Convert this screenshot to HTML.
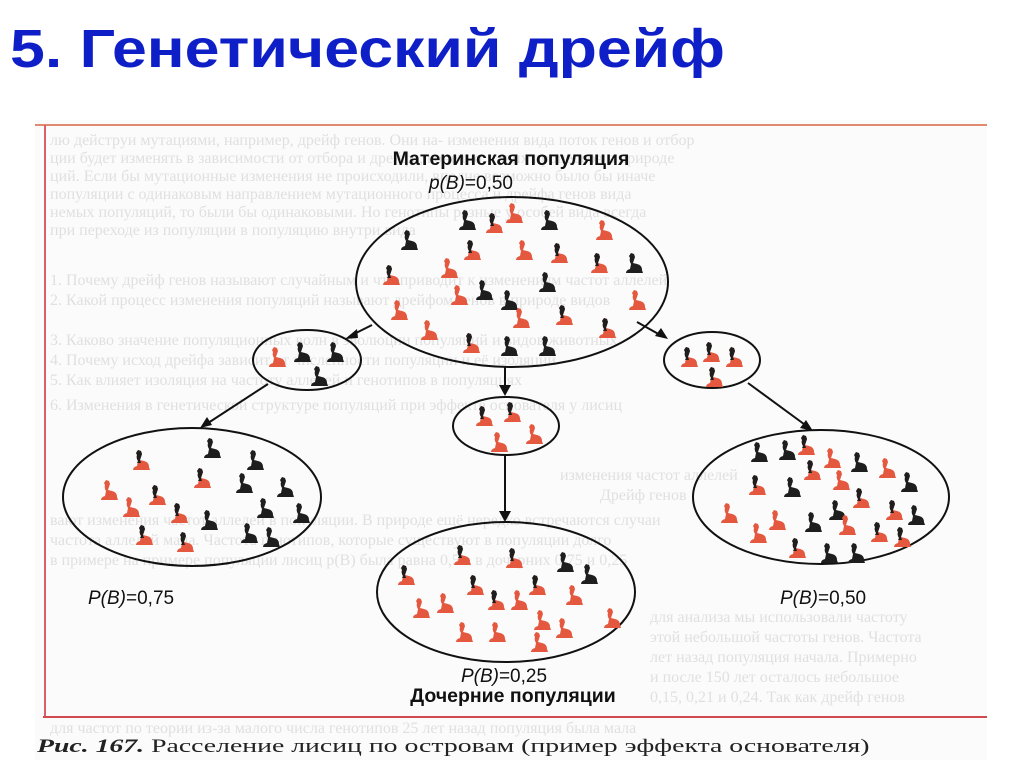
<!DOCTYPE html>
<html><head><meta charset="utf-8"><style>
html,body{margin:0;padding:0;background:#fff;width:1024px;height:767px;overflow:hidden}
svg{display:block}
</style></head><body>
<svg width="1024" height="767" viewBox="0 0 1024 767" xmlns="http://www.w3.org/2000/svg">
<defs>
<path id="fx" d="M6 0 L9 1 L10 4 L9 7 L8 10 L12 11 Q17 12 17 17 L18 20 L1 20 Q1 17 5 16 L6 11 Q4 8 5 5 L4 3 Z"/>
<path id="hd" d="M6 0 L9 1 L10 4 L9 7 L8 10 L9 13 L5 13 L6 11 Q4 8 5 5 L4 3 Z"/>
<g id="B"><use href="#fx" fill="#1e1e1e"/></g>
<g id="R"><use href="#fx" fill="#e4583f"/></g>
<g id="M"><use href="#fx" fill="#e4583f"/><use href="#hd" fill="#1e1e1e"/></g>
</defs>
<rect width="1024" height="767" fill="#fff"/>
<text x="10" y="67" font-family="Liberation Sans, sans-serif" font-weight="bold" font-size="54" fill="#0f1fc8" textLength="715" lengthAdjust="spacingAndGlyphs">5. Генетический дрейф</text>
<rect x="35" y="120" width="952" height="640" fill="#fbfbfb"/>
<line x1="35" y1="125" x2="987" y2="125" stroke="#e08a70" stroke-width="2"/>
<line x1="45" y1="125" x2="45" y2="717" stroke="#d9606a" stroke-width="2"/>
<line x1="43" y1="717" x2="987" y2="717" stroke="#d04a50" stroke-width="2"/>
<g font-family="Liberation Serif, serif" font-size="16" fill="#e0e0e0">
<text x="50" y="145">лю дейструи мутациями, например, дрейф генов. Они на- изменения вида поток генов и отбор</text>
<text x="50" y="163">ции будет изменять в зависимости от отбора и дрейфа, конечно, таких процессов в природе</text>
<text x="50" y="181">ций. Если бы мутационные изменения не происходили, вполне возможно было бы иначе</text>
<text x="50" y="199">популяции с одинаковым направлением мутационного процесса и дрейфа генов вида</text>
<text x="50" y="217">немых популяций, то были бы одинаковыми. Но генотипы разные у особей вида всегда</text>
<text x="50" y="235">при переходе из популяции в популяцию внутри вида</text>
<text x="50" y="285">1. Почему дрейф генов называют случайным и что приводит к изменениям частот аллелей</text>
<text x="50" y="305">2. Какой процесс изменения популяций называют дрейфом генов в природе видов</text>
<text x="50" y="345">3. Каково значение популяционных волн в эволюции популяций и видов животных</text>
<text x="50" y="365">4. Почему исход дрейфа зависит от численности популяции и её изоляции</text>
<text x="50" y="385">5. Как влияет изоляция на частоту аллелей и генотипов в популяциях</text>
<text x="50" y="410">6. Изменения в генетической структуре популяций при эффекте основателя у лисиц</text>
<text x="560" y="480">изменения частот аллелей</text>
<text x="600" y="500">Дрейф генов</text>
<text x="50" y="525">вают изменения частот аллелей в популяции. В природе ещё нередко встречаются случаи</text>
<text x="50" y="545">частота аллелей мала. Частота генотипов, которые существуют в популяции долго</text>
<text x="50" y="565">в примере на примере популяции лисиц p(B) была равна 0,5 а в дочерних 0,75 и 0,25</text>
<text x="650" y="622">для анализа мы использовали частоту</text>
<text x="650" y="642">этой небольшой частоты генов. Частота</text>
<text x="650" y="662">лет назад популяция начала. Примерно</text>
<text x="650" y="682">и после 150 лет осталось небольшое</text>
<text x="650" y="702">0,15, 0,21 и 0,24. Так как дрейф генов</text>
<text x="50" y="733">для частот по теории из-за малого числа генотипов 25 лет назад популяция была мала</text>
</g>
<g fill="none" stroke="#111" stroke-width="2">
<ellipse cx="512" cy="282" rx="156" ry="85"/>
<ellipse cx="307" cy="360" rx="54" ry="30"/>
<ellipse cx="712" cy="360" rx="48" ry="28"/>
<ellipse cx="506" cy="426" rx="53" ry="29"/>
<ellipse cx="192" cy="497" rx="129" ry="69"/>
<ellipse cx="821" cy="497" rx="128" ry="67"/>
<ellipse cx="506" cy="592" rx="129" ry="70"/>
<line x1="372" y1="325" x2="350" y2="336"/>
<line x1="268" y1="384" x2="205" y2="425"/>
<line x1="637" y1="322" x2="662" y2="336"/>
<line x1="748" y1="383" x2="808" y2="427"/>
<line x1="505" y1="367" x2="505" y2="390"/>
<line x1="505" y1="455" x2="505" y2="516"/>
</g>
<g fill="#111">
<polygon points="345,339 357,329 358,338"/>
<polygon points="200,428 207,417 212,425"/>
<polygon points="668,339 655,336 661,328"/>
<polygon points="813,431 800,428 806,420"/>
<polygon points="505,396 499,385 511,385"/>
<polygon points="505,522 499,511 511,511"/>
</g>
<g font-family="Liberation Sans, sans-serif" fill="#111">
<text x="511" y="165" font-weight="bold" font-size="19.5" text-anchor="middle">Материнская популяция</text>
<text x="471" y="189" font-size="19" text-anchor="middle"><tspan font-style="italic">p(B)</tspan>=0,50</text>
<text x="88" y="604" font-size="19"><tspan font-style="italic">P(B)</tspan>=0,75</text>
<text x="780" y="604" font-size="19"><tspan font-style="italic">P(B)</tspan>=0,50</text>
<text x="504" y="682" font-size="19" text-anchor="middle"><tspan font-style="italic">P(B)</tspan>=0,25</text>
<text x="513" y="702" font-weight="bold" font-size="19.5" text-anchor="middle">Дочерние популяции</text>
</g>
<text transform="translate(37,752) scale(1.5,1)" font-family="Liberation Serif, serif" font-size="18.5" fill="#222"><tspan font-weight="bold" font-style="italic">Рис. 167.</tspan> Расселение лисиц по островам (пример эффекта основателя)</text>
<g>
<use href="#B" x="458" y="210"/><use href="#M" x="485" y="213"/><use href="#R" x="505" y="203"/><use href="#B" x="540" y="210"/>
<use href="#B" x="400" y="230"/><use href="#R" x="595" y="220"/><use href="#M" x="463" y="240"/><use href="#R" x="515" y="240"/>
<use href="#M" x="550" y="243"/><use href="#M" x="590" y="253"/><use href="#B" x="625" y="253"/><use href="#M" x="382" y="265"/>
<use href="#B" x="475" y="280"/><use href="#B" x="500" y="290"/><use href="#B" x="538" y="272"/><use href="#R" x="450" y="285"/>
<use href="#R" x="390" y="300"/><use href="#R" x="512" y="308"/><use href="#M" x="555" y="305"/><use href="#M" x="598" y="318"/>
<use href="#R" x="420" y="320"/><use href="#M" x="462" y="333"/><use href="#B" x="500" y="336"/><use href="#B" x="538" y="336"/>
<use href="#R" x="628" y="290"/><use href="#R" x="440" y="258"/>
<use href="#R" x="268" y="347"/><use href="#B" x="293" y="342"/><use href="#B" x="326" y="342"/><use href="#B" x="310" y="366"/>
<use href="#M" x="680" y="347"/><use href="#M" x="702" y="342"/><use href="#M" x="725" y="347"/><use href="#M" x="705" y="367"/>
<use href="#M" x="475" y="406"/><use href="#M" x="503" y="402"/><use href="#R" x="490" y="432"/><use href="#R" x="525" y="424"/>
<use href="#M" x="132" y="450"/><use href="#B" x="203" y="438"/><use href="#B" x="246" y="450"/><use href="#M" x="193" y="468"/>
<use href="#R" x="100" y="480"/><use href="#B" x="235" y="473"/><use href="#B" x="276" y="477"/><use href="#M" x="148" y="485"/>
<use href="#R" x="122" y="497"/><use href="#B" x="256" y="498"/><use href="#B" x="292" y="503"/><use href="#M" x="170" y="503"/>
<use href="#B" x="200" y="510"/><use href="#B" x="240" y="523"/><use href="#M" x="135" y="525"/><use href="#M" x="176" y="532"/><use href="#B" x="262" y="527"/>
<use href="#B" x="750" y="442"/><use href="#B" x="778" y="440"/><use href="#M" x="797" y="435"/><use href="#R" x="823" y="448"/>
<use href="#B" x="850" y="452"/><use href="#R" x="878" y="458"/><use href="#M" x="748" y="475"/><use href="#B" x="783" y="477"/>
<use href="#M" x="803" y="460"/><use href="#R" x="832" y="470"/><use href="#B" x="900" y="472"/><use href="#M" x="852" y="488"/>
<use href="#B" x="828" y="500"/><use href="#B" x="804" y="512"/><use href="#R" x="768" y="510"/><use href="#R" x="720" y="503"/>
<use href="#B" x="907" y="505"/><use href="#M" x="885" y="500"/><use href="#R" x="838" y="515"/><use href="#M" x="870" y="522"/>
<use href="#R" x="749" y="523"/><use href="#M" x="788" y="538"/><use href="#B" x="820" y="543"/><use href="#B" x="847" y="543"/><use href="#M" x="893" y="527"/>
<use href="#M" x="453" y="545"/><use href="#M" x="505" y="548"/><use href="#B" x="556" y="552"/><use href="#B" x="580" y="564"/>
<use href="#M" x="397" y="565"/><use href="#M" x="466" y="575"/><use href="#M" x="528" y="575"/><use href="#M" x="487" y="590"/>
<use href="#R" x="412" y="598"/><use href="#R" x="436" y="593"/><use href="#R" x="510" y="590"/><use href="#R" x="565" y="585"/>
<use href="#R" x="533" y="610"/><use href="#R" x="555" y="618"/><use href="#R" x="603" y="608"/><use href="#R" x="455" y="622"/>
<use href="#R" x="488" y="622"/><use href="#R" x="530" y="632"/>
</g>
</svg>
</body></html>
